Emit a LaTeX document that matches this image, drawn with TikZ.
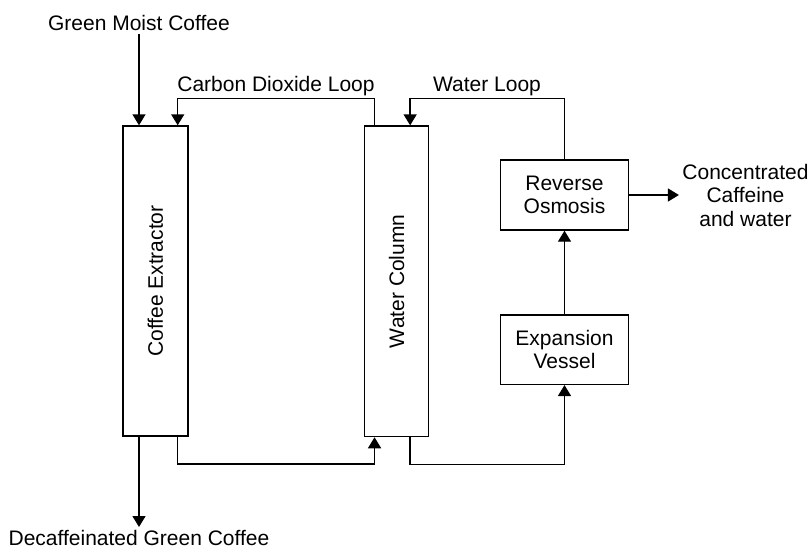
\documentclass[tikz,border=0pt]{standalone}
\usepackage{fontspec}
\setmainfont{Liberation Sans}
\usetikzlibrary{arrows.meta,calc}
\begin{document}
\begin{tikzpicture}[x=1pt,y=-1pt,
  every node/.style={font=\fontsize{21}{23.5}\selectfont},
  box/.style={draw,line width=1.4pt,inner sep=0pt,align=center},
  arr/.style={line width=1.4pt,-{Triangle[width=13pt,length=11pt]}},
  ln/.style={line width=1.4pt}]
\useasboundingbox[fill=white] (0,0) rectangle (812,552);
% boxes
\node[box,minimum width=65pt,minimum height=310pt] (ce) at (155.5,281) {};
\node[rotate=90] (celbl) at (ce.center) {Coffee Extractor};
\node[box,minimum width=64.5pt,minimum height=310.5pt] (wc) at (396.5,281.3) {};
\node[rotate=90] (wclbl) at (wc.center) {Water Column};
\node[box,minimum width=128.5pt,minimum height=70pt] (ro) at (564.5,195) {Reverse\\Osmosis};
\node[box,minimum width=128.5pt,minimum height=69.3pt] (ev) at (564.5,349.7) {Expansion\\Vessel};
% free texts
\node[anchor=south] (gmc) at (139,34) {Green Moist Coffee};
\node[anchor=north] (dgc) at (139,527) {Decaffeinated Green Coffee};
\node[align=center] (cc) at (745.5,195) {Concentrated\\Caffeine\\and water};
\node[anchor=south] (co2lbl) at (276,99.3) {Carbon Dioxide Loop};
\node[anchor=south] (wllbl) at (487,99.3) {Water Loop};
% connectors
\draw[arr] (gmc.south) -- (gmc.south |- ce.north);
\draw[arr] (dgc.north |- ce.south) -- (dgc.north);
\draw[arr] ($(wc.north west)+(11,0)$) -- ++(0,-26.7) -| ($(ce.north east)+(-11,0)$);
\draw[arr] (ro.north) -- ++(0,-60.7) -| ($(wc.north east)+(-19.3,0)$);
\draw[arr] ($(ce.south east)+(-11,0)$) -- ++(0,27.3) -| ($(wc.south west)+(11,0)$);
\draw[arr] ($(wc.south east)+(-19.3,0)$) -- ++(0,27.3) -| (ev.south);
\draw[arr] (ev.north) -- (ro.south);
\draw[arr] (ro.east) -- (cc.west |- ro.east);
\end{tikzpicture}
\end{document}
